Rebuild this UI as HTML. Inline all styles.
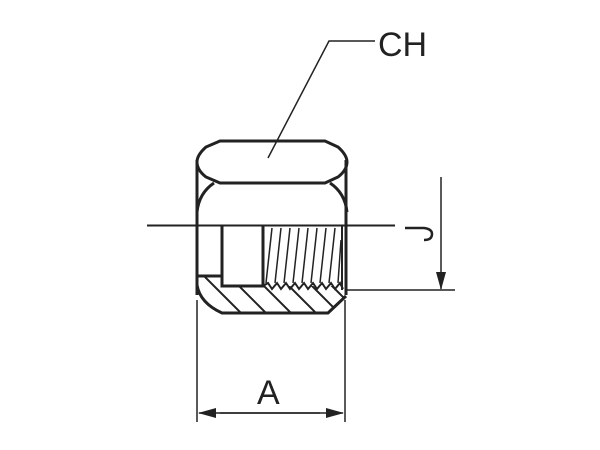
<!DOCTYPE html>
<html><head><meta charset="utf-8"><style>
html,body{margin:0;padding:0;background:#fff;}
svg{display:block;}
text{font-family:"Liberation Sans",Arial,sans-serif;fill:#222;}
</style></head><body>
<svg width="600" height="450" viewBox="0 0 600 450" xmlns="http://www.w3.org/2000/svg">
<defs>
<clipPath id="hc"><path d="M197,276 L222,276 L222,286 L263,286 L343,286 L346,296 L330,313 L222,313 Q200,300 197,290 Z"/></clipPath>
<marker id="al" markerWidth="18" markerHeight="10" refX="17" refY="5" orient="auto" markerUnits="userSpaceOnUse"><path d="M0,0 L18,5 L0,10 Z" fill="#222"/></marker>
</defs>
<g stroke="#222" fill="none">
<path d="M220,141 L325,141 L338,147 Q347,155 347,162 Q347,170 338,177 L325,183 L220,183 L206,177 Q197,170 197,162 Q197,155 206,147 Z" stroke-width="3"/>
<path d="M214,183 Q199,193 197,212" stroke-width="3"/>
<path d="M330,183 Q345,193 347,212" stroke-width="3"/>
<line x1="197" y1="160" x2="197" y2="295" stroke-width="3"/>
<line x1="346" y1="160" x2="346" y2="295" stroke-width="3"/>
<path d="M197,285 Q200,303 222,313 L328,313 L346,296" stroke-width="3"/>
<path d="M197,276 L222,276 L222,226 M222,276 L222,286 L263,286 L263,226" stroke-width="3"/>
<line x1="342" y1="226" x2="342" y2="290" stroke-width="2"/>
<path d="M263,286 L268,283 L272,289 L277,283 L281,289 L286,283 L290,289 L295,283 L299,289 L304,283 L308,289 L313,283 L317,289 L322,283 L326,289 L331,283 L335,289 L340,283 L343,289" stroke-width="2"/>
<g stroke-width="1.5">
<line x1="266" y1="283" x2="272" y2="228"/><line x1="275" y1="283" x2="281" y2="228"/><line x1="284" y1="283" x2="290" y2="228"/><line x1="293" y1="283" x2="299" y2="228"/><line x1="302" y1="283" x2="308" y2="228"/><line x1="311" y1="283" x2="317" y2="228"/><line x1="320" y1="283" x2="326" y2="228"/><line x1="329" y1="283" x2="335" y2="228"/><line x1="338" y1="283" x2="341" y2="240"/>
</g>
<g clip-path="url(#hc)" stroke-width="2">
<line x1="200" y1="272" x2="243" y2="315"/><line x1="225" y1="272" x2="268" y2="315"/><line x1="250" y1="272" x2="293" y2="315"/><line x1="275" y1="272" x2="318" y2="315"/><line x1="298" y1="272" x2="341" y2="315"/><line x1="318" y1="272" x2="361" y2="315"/>
</g>
<line x1="147" y1="225.5" x2="395" y2="225.5" stroke-width="2"/>
<path d="M268,158 L329,41 L375,41" stroke-width="1.5"/>
<line x1="441" y1="177" x2="441" y2="289" stroke-width="1.5" marker-end="url(#al)"/>
<line x1="347" y1="290" x2="455" y2="290" stroke-width="1.5"/>
<path d="M405,228 L424,228 Q432,229 432,234 Q432,240 424,240" stroke-width="2.5"/>
<line x1="197" y1="300" x2="197" y2="422" stroke-width="1.5"/>
<line x1="345" y1="300" x2="345" y2="422" stroke-width="1.5"/>
<line x1="220" y1="413" x2="343" y2="413" stroke-width="1.5" marker-end="url(#al)"/>
<line x1="320" y1="413" x2="199" y2="413" stroke-width="1.5" marker-end="url(#al)"/>
</g>
<text x="378" y="56" font-size="34">CH</text>
<text x="257" y="404" font-size="34">A</text>
</svg>
</body></html>
